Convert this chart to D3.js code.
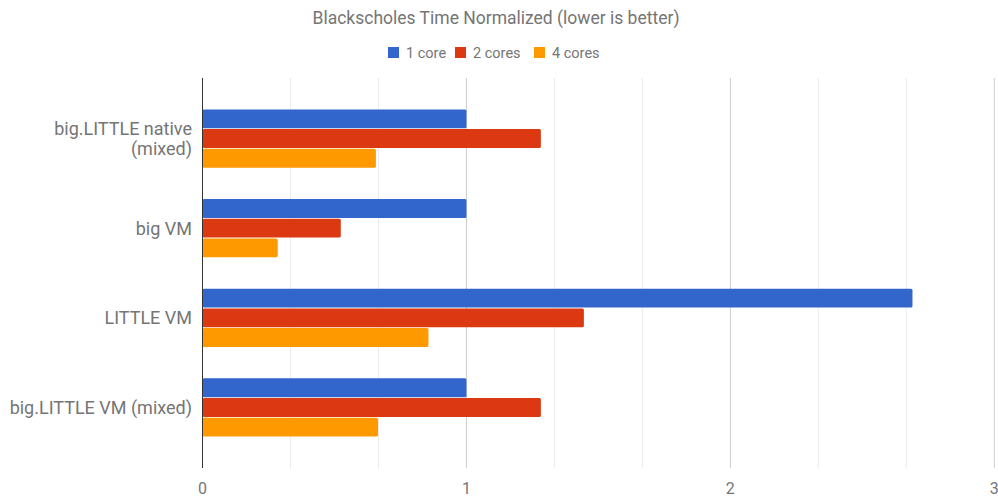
<!DOCTYPE html>
<html lang="en">
<head>
<meta charset="UTF-8">
<title>Blackscholes Time Normalized</title>
<script src="https://d3js.org/d3.v7.min.js"></script>
<style>
  body { margin: 0; padding: 0; background: #fff; font-family: Roboto, Arial, sans-serif; overflow: hidden; }
  svg { display: block; }
</style>
</head>
<body>
<svg id="chart" width="998" height="499"></svg>
<script>
// Chart data
const categories = ['big.LITTLE native (mixed)', 'big VM', 'LITTLE VM', 'big.LITTLE VM (mixed)'];
const seriesNames = ['1 core', '2 cores', '4 cores'];
const oneCore = [1.0, 1.0, 2.69, 1.0];
const twoCores = [1.282, 0.524, 1.445, 1.282];
const fourCores = [0.657, 0.285, 0.856, 0.665];
const xTicks = [0, 1, 2, 3];
const title = 'Blackscholes Time Normalized (lower is better)';

const colors = ['#3366cc', '#dc3912', '#ff9900'];
const seriesValues = [oneCore, twoCores, fourCores];

const width = 998, height = 499;
const plot = { left: 202.5, right: 994.3, top: 78, bottom: 468 };

const svg = d3.select('#chart');

// Scales
const x = d3.scaleLinear().domain([0, 3]).range([plot.left, plot.right]);
const y = d3.scaleBand().domain(categories)
  .range([93.7, 452.3]).paddingInner(0.35).paddingOuter(0.175);
const ySub = d3.scaleBand().domain(seriesNames)
  .range([0, y.bandwidth()]).paddingInner(0.04);

// Minor gridlines (thirds)
const minor = d3.range(0, 3.001, 1 / 3).filter(v => Math.abs(v - Math.round(v)) > 1e-6);
svg.append('g').selectAll('line').data(minor).enter().append('line')
  .attr('x1', d => x(d)).attr('x2', d => x(d))
  .attr('y1', plot.top).attr('y2', plot.bottom)
  .attr('stroke', '#ebebeb').attr('stroke-width', 1);

// Major gridlines
svg.append('g').selectAll('line').data(xTicks.slice(1)).enter().append('line')
  .attr('x1', d => x(d)).attr('x2', d => x(d))
  .attr('y1', plot.top).attr('y2', plot.bottom)
  .attr('stroke', '#cccccc').attr('stroke-width', 1);

// Bars
const rows = categories.map((c, i) => ({ cat: c, vals: seriesValues.map((s, j) => ({ name: seriesNames[j], v: s[i], color: colors[j] })) }));
const groups = svg.append('g').selectAll('g').data(rows).enter().append('g')
  .attr('transform', d => `translate(0,${y(d.cat)})`);
groups.selectAll('rect').data(d => d.vals).enter().append('rect')
  .attr('x', x(0))
  .attr('y', d => ySub(d.name))
  .attr('width', d => x(d.v) - x(0))
  .attr('height', ySub.bandwidth())
  .attr('rx', 1.5)
  .attr('fill', d => d.color);

// Zero baseline
svg.append('line')
  .attr('x1', x(0)).attr('x2', x(0))
  .attr('y1', plot.top).attr('y2', plot.bottom)
  .attr('stroke', '#333').attr('stroke-width', 1);

// X tick labels
svg.append('g').selectAll('text').data(xTicks).enter().append('text')
  .attr('x', d => x(d)).attr('y', 494)
  .attr('text-anchor', 'middle')
  .attr('font-size', 16).attr('fill', '#757575')
  .text(d => d);

// Category labels (wrap the long native label like the original)
const labelLines = {
  'big.LITTLE native (mixed)': ['big.LITTLE native', '(mixed)']
};
categories.forEach(c => {
  const lines = labelLines[c] || [c];
  const cy = y(c) + y.bandwidth() / 2;
  const lh = 19.5;
  const t = svg.append('text')
    .attr('text-anchor', 'end')
    .attr('font-size', 18).attr('fill', '#757575');
  lines.forEach((ln, k) => {
    t.append('tspan')
      .attr('x', 192)
      .attr('y', cy + (k - (lines.length - 1) / 2) * lh + 6.5)
      .text(ln);
  });
});

// Title
svg.append('text')
  .attr('x', 496).attr('y', 24)
  .attr('text-anchor', 'middle')
  .attr('font-size', 17.5).attr('fill', '#757575')
  .text(title);

// Legend
const legendX = [388, 455, 534];
const legend = svg.append('g').selectAll('g').data(seriesNames).enter().append('g')
  .attr('transform', (d, i) => `translate(${legendX[i]},47)`);
legend.append('rect').attr('width', 11).attr('height', 11)
  .attr('fill', (d, i) => colors[i]);
legend.append('text').attr('x', 18).attr('y', 10.5)
  .attr('font-size', 14.5).attr('fill', '#757575')
  .text(d => d);
</script>
</body>
</html>
